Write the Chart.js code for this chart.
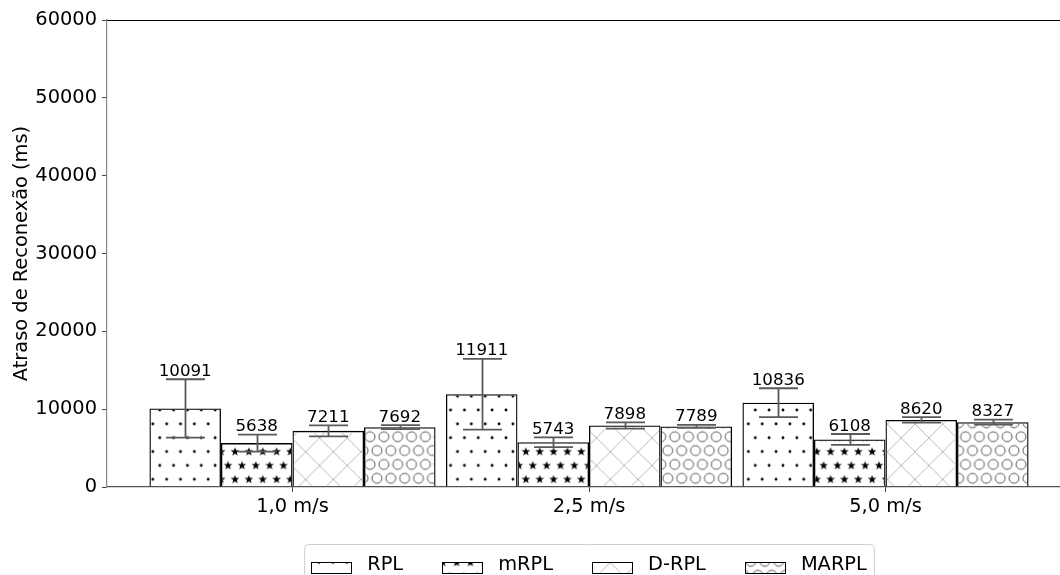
<!DOCTYPE html>
<html>
<head>
<meta charset="utf-8">
<script src="https://cdn.jsdelivr.net/npm/chart.js@4.4.1/dist/chart.umd.min.js"></script>
<style>
  html, body { margin: 0; padding: 0; background: #fff; overflow: hidden; }
  #wrap { width: 1060px; height: 575px; position: relative; }
</style>
</head>
<body>
<div id="wrap"><canvas id="c" width="1060" height="575"></canvas></div>
<script>
// Categories (node speed) and protocols
const speeds = ['1,0 m/s', '2,5 m/s', '5,0 m/s'];
const protocols = ['RPL', 'mRPL', 'D-RPL', 'MARPL'];

// Mean reconnection delay (ms) per speed
const rplMean = [10091, 11911, 10836];
const mrplMean = [5638, 5743, 6108];
const drplMean = [7211, 7898, 8620];
const marplMean = [7692, 7789, 8327];

// Error bar half-widths (ms)
const rplErr = [3750, 4550, 1850];
const mrplErr = [1100, 620, 700];
const drplErr = [700, 400, 350];
const marplErr = [260, 200, 320];

// Y-axis tick values
const yTicks = [0, 10000, 20000, 30000, 40000, 50000, 60000];

const FONT = '"DejaVu Sans", "Liberation Sans", sans-serif';

// ---------- hatch patterns ----------
const TILE = 28;          // tile holds 2x2 hatch cells of 14px
const CELL_SCALE = 13.85 / 14;

function makeTile(drawFn) {
  const c = document.createElement('canvas');
  c.width = TILE; c.height = TILE;
  const g = c.getContext('2d');
  drawFn(g);
  return c;
}
// staggered lattice points inside a tile, with wrap copies
function latticePoints() {
  const base = [[0, 0], [14, 0], [7, 14], [21, 14]];
  const pts = [];
  for (const [x, y] of base)
    for (const dx of [-TILE, 0, TILE])
      for (const dy of [-TILE, 0, TILE]) pts.push([x + dx, y + dy]);
  return pts;
}
function starPath(g, cx, cy, R, r) {
  g.beginPath();
  for (let k = 0; k < 10; k++) {
    const ang = -Math.PI / 2 + k * Math.PI / 5;
    const rad = k % 2 === 0 ? R : r;
    const px = cx + rad * Math.cos(ang), py = cy + rad * Math.sin(ang);
    if (k === 0) g.moveTo(px, py); else g.lineTo(px, py);
  }
  g.closePath();
}
function pattern(tile, ox, oy) {
  const ctx = document.getElementById('c').getContext('2d');
  const p = ctx.createPattern(tile, 'repeat');
  p.setTransform(new DOMMatrix([CELL_SCALE, 0, 0, CELL_SCALE, ox, oy]));
  return p;
}

const dotTile = makeTile(g => {
  g.fillStyle = '#000';
  for (const [x, y] of latticePoints()) { g.beginPath(); g.arc(x, y, 1.45, 0, Math.PI * 2); g.fill(); }
});
const starTile = makeTile(g => {
  g.fillStyle = '#000';
  for (const [x, y] of latticePoints()) { starPath(g, x, y, 4.6, 1.9); g.fill(); }
});
const crossTile = makeTile(g => {
  g.strokeStyle = '#b8b8b8'; g.lineWidth = 1;
  g.beginPath();
  for (let k = -1; k <= 2; k++) {
    g.moveTo(-TILE, k * TILE - TILE); g.lineTo(2 * TILE, k * TILE + 2 * TILE);
    g.moveTo(-TILE, k * TILE + TILE); g.lineTo(2 * TILE, k * TILE - 2 * TILE);
  }
  g.stroke();
});
const circleTile = makeTile(g => {
  g.strokeStyle = '#5a5a5a'; g.lineWidth = 1;
  for (const [x, y] of latticePoints()) { g.beginPath(); g.arc(x, y, 5, 0, Math.PI * 2); g.stroke(); }
});

const fills = [
  pattern(dotTile, 159.7, 410),
  pattern(starTile, 235, 451.7),
  pattern(crossTile, 333.3, 451.7),
  pattern(circleTile, 370, 436.7)
];

const means = [rplMean, mrplMean, drplMean, marplMean];
const errs = [rplErr, mrplErr, drplErr, marplErr];

const datasets = protocols.map((name, d) => ({
  label: name,
  data: means[d].map((v, i) => ({ x: i, y: v })),
  errors: errs[d],
  backgroundColor: fills[d],
  borderColor: '#000',
  borderWidth: 1.3,
  borderSkipped: 'start',
  categoryPercentage: 0.965,
  barPercentage: 1.0
}));

// ---------- error bars + value labels ----------
const errorBarPlugin = {
  id: 'errorBars',
  afterDatasetsDraw(chart) {
    const { ctx } = chart;
    const yS = chart.scales.y;
    ctx.save();
    chart.data.datasets.forEach((ds, d) => {
      const meta = chart.getDatasetMeta(d);
      meta.data.forEach((bar, i) => {
        const v = ds.data[i].y, e = ds.errors[i];
        const x = Math.round(bar.x) + 0.5;
        const yTop = yS.getPixelForValue(v + e);
        const yBot = yS.getPixelForValue(v - e);
        ctx.strokeStyle = '#5a5a5a';
        ctx.lineWidth = 1.8;
        ctx.beginPath();
        ctx.moveTo(x, yTop); ctx.lineTo(x, yBot);
        ctx.moveTo(x - 19.5, yTop); ctx.lineTo(x + 19.5, yTop);
        ctx.moveTo(x - 19.5, yBot); ctx.lineTo(x + 19.5, yBot);
        ctx.stroke();
        ctx.fillStyle = '#000';
        ctx.font = '16.7px ' + FONT;
        ctx.textAlign = 'center';
        ctx.textBaseline = 'alphabetic';
        ctx.fillText(String(v), bar.x, yTop - 3.5);
      });
    });
    ctx.restore();
  }
};

// ---------- top spine + legend ----------
const framePlugin = {
  id: 'frame',
  afterDraw(chart) {
    const { ctx, chartArea } = chart;
    ctx.save();
    ctx.strokeStyle = '#000';
    ctx.lineWidth = 1.2;
    ctx.beginPath();
    ctx.moveTo(chartArea.left, chartArea.top + 0.5);
    ctx.lineTo(chartArea.right, chartArea.top + 0.5);
    ctx.stroke();

    // legend, one row of four entries, centred under the middle group
    const fs = 19.4;
    ctx.font = fs + 'px ' + FONT;
    const handleW = 40, handleH = 11, gap = 16, colSpace = 39, pad = 7;
    const widths = protocols.map(p => ctx.measureText(p).width);
    let total = 0;
    widths.forEach((w, i) => { total += handleW + gap + w + (i < widths.length - 1 ? colSpace : 0); });
    const boxW = total + 2 * pad;
    const cx = chart.scales.x.getPixelForValue(1);
    const boxL = cx - boxW / 2;
    const boxT = 544;
    const boxH = 40;
    ctx.fillStyle = 'rgba(255,255,255,0.8)';
    ctx.strokeStyle = '#cfcfcf';
    ctx.lineWidth = 1;
    ctx.beginPath();
    ctx.roundRect(boxL + 0.5, boxT + 0.5, boxW, boxH, 4);
    ctx.fill();
    ctx.stroke();

    let x = boxL + pad;
    const baseY = 570;
    protocols.forEach((p, i) => {
      const hy = 562;
      ctx.fillStyle = fills[i];
      ctx.fillRect(x, hy, handleW, handleH);
      ctx.strokeStyle = '#000';
      ctx.lineWidth = 1;
      ctx.strokeRect(Math.round(x) + 0.5, hy + 0.5, handleW, handleH);
      ctx.fillStyle = '#000';
      ctx.textAlign = 'left';
      ctx.textBaseline = 'alphabetic';
      ctx.fillText(p, x + handleW + gap, baseY);
      x += handleW + gap + widths[i] + colSpace;
    });
    ctx.restore();
  }
};

new Chart(document.getElementById('c'), {
  type: 'bar',
  data: { datasets },
  options: {
    responsive: false,
    animation: false,
    layout: { padding: { top: 20, left: 0, right: 0, bottom: 0 } },
    plugins: { legend: { display: false }, tooltip: { enabled: false } },
    scales: {
      x: {
        type: 'linear',
        min: -0.6256,
        max: 2.5885,
        offset: false,
        z: 1,
        afterBuildTicks: s => { s.ticks = speeds.map((_, i) => ({ value: i })); },
        afterFit: s => { s.height = 88; },
        grid: { offset: false, drawOnChartArea: false, drawTicks: true, tickLength: 5, color: '#444', lineWidth: 1 },
        border: { display: true, color: '#555', width: 1.2 },
        ticks: {
          callback: v => speeds[v] ?? '',
          font: { family: FONT, size: 19.4 },
          color: '#000',
          padding: 3,
          maxRotation: 0,
          autoSkip: false
        }
      },
      y: {
        min: 0,
        max: 60000,
        afterBuildTicks: s => { s.ticks = yTicks.map(v => ({ value: v })); },
        afterFit: s => { s.width = 107; },
        grid: { drawOnChartArea: false, drawTicks: true, tickLength: 5, color: '#444', lineWidth: 1 },
        border: { display: true, color: '#888', width: 1.2 },
        ticks: {
          callback: v => String(v),
          font: { family: FONT, size: 19.4 },
          color: '#000',
          padding: 5,
          autoSkip: false
        },
        title: {
          display: true,
          text: 'Atraso de Reconexão (ms)',
          font: { family: FONT, size: 19.4 },
          color: '#000',
          padding: { top: 10, bottom: 0 }
        }
      }
    }
  },
  plugins: [errorBarPlugin, framePlugin]
});
</script>
</body>
</html>
